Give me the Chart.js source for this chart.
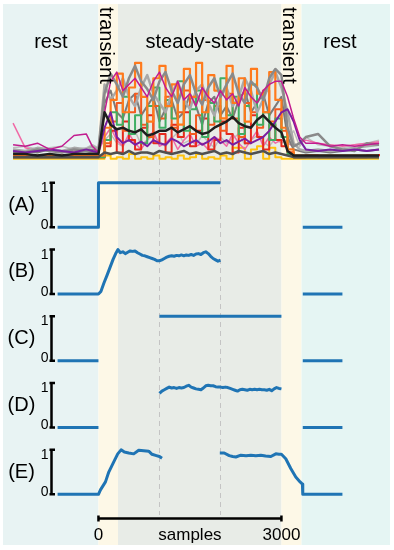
<!DOCTYPE html>
<html>
<head>
<meta charset="utf-8">
<script src="https://cdn.jsdelivr.net/npm/chart.js@4.4.0/dist/chart.umd.min.js"></script>
<style>
  html, body { margin: 0; padding: 0; background: #fff; }
  canvas { display: block; }
</style>
</head>
<body>
<canvas id="grafico" width="394" height="550"></canvas>
<script>
// --- datos ---
// eje de muestras de las señales EMG (panel superior)
const emgX = [-1400,-1200,-1000,-800,-600,-400,-200,-100,0,100,200,300,400,500,600,700,800,900,1000,
  1100,1200,1300,1400,1500,1600,1700,1800,1900,2000,2100,2200,2300,2400,2500,2600,2700,2800,2900,3000,
  3100,3200,3300,3400,3600,3800,4000,4200,4400,4600];

const emgBlack   = [3,3,2,3,2,3,3,3,3, 30,22,19,20,18,17,19,15,16,18, 18,20,17,19,21,18,16,17,20,22, 24,27,23,21,20,25,28,24,20,17, 5,2,2,2,2,2,2,2,2,2];
const emgDark    = [1,1,1,1,1,1,1,1,1, 4,3,4,3,5,3,4,4,3,5, 4,3,4,5,3,4,3,4,5,3, 4,3,5,4,3,4,5,3,4,3, 2,1,1,1,1,1,1,1,1,1];
const emgGray1   = [5,4,6,5,4,6,5,4,5, 42,55,48,40,52,60,50,45,38,50, 56,44,36,48,54,42,35,46,52,40, 48,55,42,36,50,46,38,52,58,54, 20,8,10,14,16,8,6,5,10,9];
const emgGray2   = [6,5,7,6,5,7,6,8,6, 48,38,44,52,40,34,46,54,42,36, 30,42,50,38,32,44,48,36,28,40, 46,34,40,52,44,30,38,48,56,46, 30,10,6,5,6,5,6,7,8,9];
const emgGray3   = [4,5,4,6,5,4,5,6,5, 36,44,30,26,38,42,28,34,40,24, 32,38,26,30,42,34,22,36,40,28, 34,26,38,44,30,36,42,28,34,40, 14,6,5,4,5,4,5,6,5,6];
const emgGray4   = [7,8,6,7,8,6,7,9,7, 12,16,10,8,14,18,9,12,15,11, 8,13,17,10,12,9,15,11,7,14, 10,13,16,9,12,15,11,8,13,10, 12,18,8,14,9,8,7,9,10,12];
const emgOrange  = [2,2,2,2,2,2,2,2,2, 20,38,55,30,46,62,40,24,52,60, 34,48,22,58,40,62,30,54,44,26, 60,36,52,24,58,42,30,56,38,20, 6,2,2,2,2,2,2,2,2,2];
const emgOrange2 = [1,1,1,1,1,1,1,1,1, 10,24,36,18,30,42,22,14,34,26, 40,20,30,44,16,28,38,22,34,18, 42,26,14,36,30,20,44,24,32,18, 4,1,1,1,1,1,1,1,1,1];
const emgGreen   = [1,1,1,1,1,1,1,1,1, 12,30,22,40,16,28,10,34,46,20, 38,26,50,18,32,44,14,36,24,52, 28,40,16,34,48,22,30,12,26,14, 3,1,1,1,1,1,1,1,1,1];
const emgRed     = [1,1,1,1,1,1,1,1,1, 8,18,4,24,12,6,20,28,10,16, 4,22,14,30,8,18,26,6,12,24, 16,4,20,10,28,14,6,22,12,8, 4,1,1,2,1,1,1,1,2,3];
const emgMagenta = [9,8,10,6,8,15,16,8,4, 30,50,56,44,48,52,46,40,50,56, 46,40,50,38,42,34,46,40,36,44, 38,42,34,46,40,36,44,48,50,50, 40,26,14,10,10,8,9,8,9,10];
const emgPurple  = [5,4,5,6,5,4,6,5,4, 20,30,14,10,12,9,11,8,12,10, 9,13,11,8,10,12,9,11,14,10, 12,9,11,13,10,12,14,18,24,30, 32,24,12,6,5,6,5,6,5,6];
const emgYellow  = [0,0,0,0,0,0,0,0,0, 2,0,1,0,3,0,1,0,2,0, 1,0,2,0,1,3,0,1,0,2, 0,7,7,0,6,8,0,7,1,0, 0,0,0,0,0,0,0,0,0,0];
const emgPink    = [23,7,5,6,4,5,6,4,4, 14,20,12,8,16,10,6,12,18,8, 10,14,6,12,16,8,10,6,14,12, 8,16,10,6,12,18,8,14,10,12, 10,8,10,12,10,9,8,9,10,11];

// paneles (A)-(E)
const aX = [-670, 0, 0, 2000, 2500, 3350, 4000];
const aY = [0, 0, 1, 1, null, 0, 0];

const bX = [-670,0,40,90,140,190,240,290,320,360,400,440,480,520,560,600,640,680,720,760,800,840,880,920,960,1000,
  1040,1080,1120,1160,1200,1240,1280,1320,1360,1400,1440,1480,1520,1560,1600,1640,1680,1720,1760,1800,1840,1880,1920,1960,2000,
  2500,3350,4000];
const bY = [0,0,0.06,0.25,0.42,0.6,0.78,0.93,1.0,0.93,0.95,0.91,0.94,0.97,0.96,0.97,0.93,0.9,0.87,0.86,0.84,0.82,0.8,0.78,0.75,0.75,
  0.77,0.8,0.83,0.85,0.86,0.85,0.87,0.86,0.88,0.86,0.88,0.87,0.89,0.87,0.9,0.91,0.89,0.93,0.95,0.91,0.85,0.8,0.77,0.74,0.76,
  null,0,0];

const cX = [-670, 0, 500, 1000, 3000, 3200, 3350, 4000];
const cY = [0, 0, null, 1, 1, null, 0, 0];

const dX = [-670,0,500,1000,1040,1080,1120,1160,1200,1240,1280,1320,1360,1400,1440,1480,1520,1560,1600,1640,1680,1720,1760,
  1800,1840,1880,1920,1960,2000,2040,2080,2120,2160,2200,2240,2280,2320,2360,2400,2440,2480,2520,2560,2600,2640,2680,2720,
  2760,2800,2840,2880,2920,2960,3000,3200,3350,4000];
const dY = [0,0,null,0.77,0.82,0.85,0.88,0.91,0.89,0.9,0.88,0.9,0.89,0.9,0.93,0.95,0.91,0.89,0.87,0.86,0.85,0.89,0.94,
  0.95,0.94,0.94,0.92,0.91,0.91,0.9,0.91,0.9,0.88,0.86,0.84,0.82,0.85,0.86,0.85,0.84,0.86,0.85,0.86,0.85,0.86,0.85,0.85,
  0.84,0.86,0.83,0.87,0.9,0.88,0.87,null,0,0];

const eX = [-670,0,33,115,169,251,316,371,425,496,578,660,742,824,878,949,1000,1042,1500,1990,2062,2144,2200,2253,2335,
  2420,2499,2580,2662,2740,2826,2908,2960,3000,3071,3153,3235,3306,3344,3350,4000];
const eY = [0,0,0.1,0.28,0.5,0.73,0.91,1.0,0.95,0.93,0.91,0.99,0.98,0.97,0.9,0.87,0.85,0.81,null,0.93,0.93,0.87,0.85,0.84,0.88,
  0.87,0.88,0.87,0.88,0.86,0.85,0.91,0.9,0.9,0.8,0.58,0.39,0.28,0.23,0,0];

const xTicks = [0, 1500, 3000];
const xTickLabels = ['0', 'samples', '3000'];
const phaseEdges = [0, 320, 3000, 3330];   // reposo | transitorio | estacionario | transitorio | reposo
const dashedAt = [1000, 2000];
const panelNames = ['(A)', '(B)', '(C)', '(D)', '(E)'];

// --- grafico ---
Chart.defaults.font.family = '"Liberation Sans", Arial, sans-serif';
Chart.defaults.color = '#000';

const pts = (xs, ys) => xs.map((x, i) => ({x: x, y: ys[i]}));
const FONT = '"Liberation Sans", Arial, sans-serif';
const panelIds = ['yA', 'yB', 'yC', 'yD', 'yE'];

const datasets = [];
[[aX, aY], [bX, bY], [cX, cY], [dX, dY], [eX, eY]].forEach(function(p, i) {
  datasets.push({
    data: pts(p[0], p[1]), yAxisID: panelIds[i], borderColor: '#1f74b4', borderWidth: 3,
    pointRadius: 0, tension: 0, spanGaps: false
  });
});

const emg = [
  [emgBlack, '#1e1e1e', 2.5, false],
  [emgDark, '#505050', 2.5, false],
  [emgMagenta, '#c21c8f', 1.5, false],
  [emgPurple, '#7a1ea1', 2, false],
  [emgGray1, '#8a8a8a', 2.5, false],
  [emgOrange, '#ff7a1c', 2.2, true],
  [emgGray2, '#a9a9a9', 2.5, false],
  [emgGreen, '#3fae63', 2, true],
  [emgOrange2, '#f45a1f', 2, true],
  [emgGray3, '#7b7b7b', 2, false],
  [emgRed, '#e62a1d', 2, true],
  [emgPink, '#f06aa6', 1.5, false],
  [emgGray4, '#bdbdbd', 1.5, false],
  [emgYellow, '#ffc20e', 2, true]
];
emg.forEach(function(s) {
  datasets.push({
    data: pts(emgX, s[0]), yAxisID: 'yS', borderColor: s[1], borderWidth: s[2],
    stepped: s[3], pointRadius: 0, tension: 0
  });
});

const fondo = {
  id: 'fondo',
  beforeDraw(chart) {
    const {ctx, chartArea: a, scales} = chart;
    const x = scales.x;
    const e = [a.left].concat(phaseEdges.map(v => x.getPixelForValue(v)), [a.right]);
    const cols = ['#e8f3f3', '#fdf8e7', '#e8ece7', '#fdf8e7', '#e5f5f3'];
    ctx.save();
    for (let i = 0; i < cols.length; i++) {
      ctx.fillStyle = cols[i];
      ctx.fillRect(e[i], 4, e[i + 1] - e[i], 541);
    }
    ctx.restore();
  },
  beforeDatasetsDraw(chart) {
    const {ctx, scales} = chart;
    ctx.save();
    ctx.strokeStyle = '#c4c4c4';
    ctx.lineWidth = 1;
    ctx.setLineDash([5, 4]);
    dashedAt.forEach(function(v) {
      const px = Math.round(scales.x.getPixelForValue(v)) + 0.5;
      ctx.beginPath();
      ctx.moveTo(px, 160);
      ctx.lineTo(px, 515);
      ctx.stroke();
    });
    ctx.restore();
  },
  afterDraw(chart) {
    const {ctx, scales} = chart;
    const x = scales.x;
    ctx.save();
    ctx.fillStyle = '#000';
    ctx.strokeStyle = '#000';
    // titulos de fase
    ctx.font = '20px ' + FONT;
    ctx.textAlign = 'center';
    ctx.textBaseline = 'alphabetic';
    ctx.fillText('rest', x.getPixelForValue(-780), 48);
    ctx.fillText('steady-state', x.getPixelForValue(1665), 48);
    ctx.fillText('rest', x.getPixelForValue(3960), 48);
    [0, 3000].forEach(function(v) {
      ctx.save();
      ctx.translate(x.getPixelForValue(v) + 2, 7);
      ctx.rotate(Math.PI / 2);
      ctx.textAlign = 'left';
      ctx.fillText('transient', 0, 0);
      ctx.restore();
    });
    // ejes de los paneles
    panelIds.forEach(function(id, i) {
      const s = scales[id];
      const y1 = s.getPixelForValue(1), y0 = s.getPixelForValue(0);
      ctx.lineWidth = 2.5;
      ctx.beginPath();
      ctx.moveTo(51.5, y1); ctx.lineTo(51.5, y0);
      ctx.moveTo(49.5, y1); ctx.lineTo(55, y1);
      ctx.moveTo(49.5, y0); ctx.lineTo(55, y0);
      ctx.stroke();
      ctx.font = '14px ' + FONT;
      ctx.textAlign = 'right';
      ctx.fillText('1', 48.5, y1 + 9);
      ctx.fillText('0', 48.5, y0 + 1.5);
      ctx.font = '20px ' + FONT;
      ctx.textAlign = 'center';
      ctx.textBaseline = 'middle';
      ctx.fillText(panelNames[i], 21.5, s.getPixelForValue(0.5));
      ctx.textBaseline = 'alphabetic';
    });
    // barra de muestras
    const x0 = x.getPixelForValue(xTicks[0]), x1 = x.getPixelForValue(xTicks[2]);
    ctx.lineWidth = 2.5;
    ctx.beginPath();
    ctx.moveTo(x0, 518.5); ctx.lineTo(x1, 518.5);
    ctx.moveTo(x0, 515.5); ctx.lineTo(x0, 521.5);
    ctx.moveTo(x1, 515.5); ctx.lineTo(x1, 521.5);
    ctx.stroke();
    ctx.restore();
  }
};

const panelScale = (w) => ({
  type: 'linear', display: false, stack: 'v', stackWeight: 66.75, weight: w, min: -0.2, max: 1.3
});

new Chart(document.getElementById('grafico').getContext('2d'), {
  type: 'line',
  data: { datasets: datasets },
  options: {
    responsive: false,
    devicePixelRatio: 1,
    animation: false,
    layout: { padding: { left: 3, right: 4, top: 4, bottom: 5 } },
    plugins: { legend: { display: false }, tooltip: { enabled: false } },
    elements: { line: { borderCapStyle: 'butt', borderJoinStyle: 'round' } },
    scales: {
      x: {
        type: 'linear', min: -1565, max: 4780,
        grid: { display: false }, border: { display: false },
        afterBuildTicks: s => { s.ticks = xTicks.map(v => ({ value: v })); },
        afterFit: s => { s.height = 41.75; },
        ticks: {
          autoSkip: false, maxRotation: 0, padding: 14, color: '#000',
          font: { size: 17 },
          callback: (v, i) => xTickLabels[i]
        }
      },
      yS: { type: 'linear', display: false, stack: 'v', stackWeight: 165.5, weight: 6, min: -7, max: 100 },
      yA: panelScale(5),
      yB: panelScale(4),
      yC: panelScale(3),
      yD: panelScale(2),
      yE: panelScale(1)
    }
  },
  plugins: [fondo]
});
</script>
</body>
</html>
